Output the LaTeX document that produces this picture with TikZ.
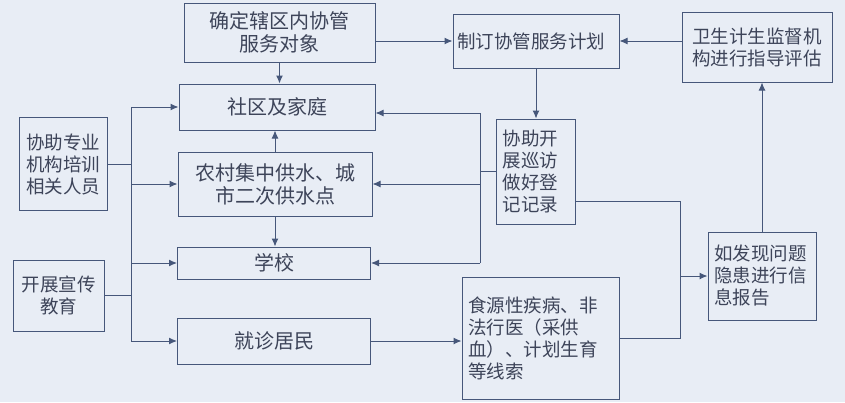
\documentclass[tikz,border=0pt]{standalone}
\usepackage{fontspec}
\newfontfamily\cjk{Noto Sans CJK SC}
\usetikzlibrary{arrows.meta}
\definecolor{paper}{HTML}{E8EDF5}
\definecolor{ink}{HTML}{46577A}
\definecolor{txt}{HTML}{3D4459}
\begin{document}
\begin{tikzpicture}[x=1pt,y=-1pt,
  box/.style={draw=ink, line width=1pt, inner sep=0pt, text=txt,
    font=\cjk\fontsize{18.5}{22}\selectfont, align=center},
  mid/.style={box, font=\cjk\fontsize{20}{23}\selectfont},
  arr/.style={draw=ink, line width=1pt, -{Latex[length=8pt,width=7pt]}},
  ln/.style={draw=ink, line width=1pt}]
\fill[paper] (0,0) rectangle (845,402);
\useasboundingbox (0,0) rectangle (845,402);
% middle column
\node[mid, minimum width=191pt, minimum height=59pt] (A) at (279.5,32.5) {确定辖区内协管\\服务对象};
\node[mid, minimum width=196pt, minimum height=46pt] (B) at (277,107) {社区及家庭};
\node[mid, minimum width=194pt, minimum height=64pt] (C) at (275,184) {农村集中供水、城\\市二次供水点};
\node[mid, minimum width=193pt, minimum height=32pt] (D) at (274,263) {学校};
\node[mid, minimum width=193pt, minimum height=46pt] (E) at (274,341) {就诊居民};
% left column
\node[box, minimum width=88pt, minimum height=93pt] (F) at (63,164) {协助专业\\机构培训\\相关人员};
\node[box, minimum width=91pt, minimum height=71pt] (G) at (58.5,295.5) {开展宣传\\教育};
% right part
\node[box, minimum width=166pt, minimum height=54pt, text width=158pt, align=left, inner xsep=4pt] (H) at (536,41) {制订协管服务计划};
\node[box, minimum width=150pt, minimum height=70pt] (I) at (757,47) {卫生计生监督机\\构进行指导评估};
\node[box, minimum width=79pt, minimum height=105pt, text width=66pt, align=left, inner xsep=6.5pt] (J) at (535.5,171.5) {协助开\\展巡访\\做好登\\记记录};
\node[box, minimum width=157pt, minimum height=122pt, text width=145pt, align=left, inner xsep=6pt] (K) at (540.5,338.5) {食源性疾病、非\\法行医（采供\\血）、计划生育\\等线索};
\node[box, minimum width=108pt, minimum height=88pt, text width=96pt, align=left, inner xsep=6pt] (L) at (762,276) {如发现问题\\隐患进行信\\息报告};
% vertical arrows in middle column
\draw[arr] (A.south) -- (A.south |- B.north);
\draw[arr] (C.north) -- (C.north |- B.south);
\draw[arr] (C.south) -- (C.south |- D.north);
% left bus
\coordinate (bt) at (131,107);
\coordinate (bb) at (131,341);
\draw[ln] (F.east) -- (F.east -| bt);
\draw[ln] (G.east) -- (G.east -| bt);
\draw[ln] (bt) -- (bb);
\draw[arr] (bt) -- (bt -| B.west);
\draw[arr] (C.west -| bt) -- (C.west);
\draw[arr] (D.west -| bt) -- (D.west);
\draw[arr] (bb) -- (bb -| E.west);
% right bus
\coordinate (rt) at (480,113);
\coordinate (rb) at (480,263);
\draw[ln] (J.west) -- (J.west -| rt);
\draw[ln] (rt) -- (rb);
\draw[arr] (rt) -- (rt -| B.east);
\draw[arr] (C.east -| rt) -- (C.east);
\draw[arr] (rb) -- (rb -| D.east);
% top links
\draw[arr] (A.east |- H.west) -- (H.west);
\draw[arr] (I.west |- H.east) -- (H.east);
\draw[arr] (H.south) -- (H.south |- J.north);
% lower right
\draw[arr] (E.east) -- (E.east -| K.west);
\coordinate (m) at (680,201);
\draw[ln] (J.east |- m) -- (m) |- (K.east);
\draw[arr] (m |- L.west) -- (L.west);
\draw[arr] (L.north) -- (L.north |- I.south);
\end{tikzpicture}
\end{document}
